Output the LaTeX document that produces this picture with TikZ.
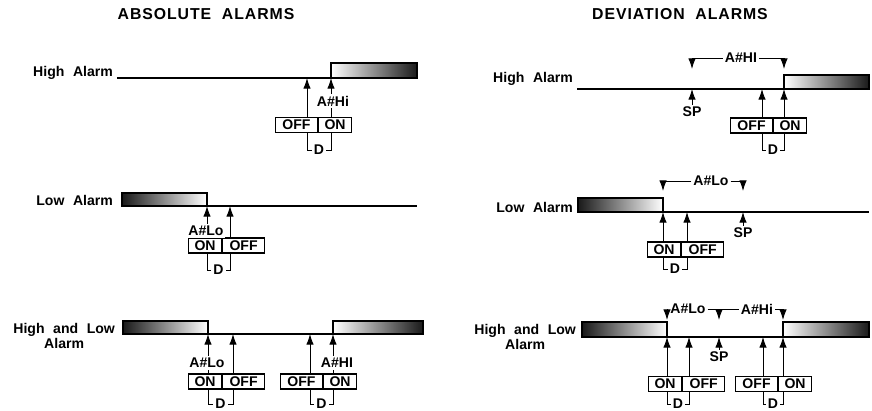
\documentclass[tikz,border=0pt]{standalone}
\usepackage{fontspec}
\setmainfont{Liberation Sans}[WordSpace=2.2]
\newfontfamily\titlefont{Liberation Sans}[LetterSpace=6,WordSpace=2]
\usetikzlibrary{positioning,arrows.meta}

\begin{document}
\begin{tikzpicture}[
    x=0.02cm, y=-0.02cm,
    every node/.style={font=\bfseries\fontsize{8}{8.5}\selectfont, inner sep=1pt},
    heading/.style={font=\titlefont\bfseries\fontsize{9}{10}\selectfont},
    cell/.style={draw, line width=0.7pt, minimum height=8.5pt, inner sep=0pt},
    oncell/.style={cell, minimum width=18.7pt},
    offcell/.style={cell, minimum width=23.8pt},
    alarmline/.style={line width=0.7pt},
    hot/.style={draw, line width=0.7pt, left color=white, right color=black!90},
    cold/.style={draw, line width=0.7pt, left color=black!90, right color=white},
    riser/.style={-{Latex[length=6pt,width=4.2pt]}, line width=0.5pt},
    bracket/.style={line width=0.5pt}
]
\useasboundingbox (0,0) rectangle (872,410);

\node[heading] (absttl) at (206,14) {ABSOLUTE ALARMS};
\node[heading] (devttl) at (680,14) {DEVIATION ALARMS};

\node[anchor=base east] (hialabel) at (115,76) {High Alarm};
\coordinate (a1start) at (117,78);
\coordinate (a1off) at (307,78);
\coordinate (a1on) at (331,78);
\draw[alarmline] (a1start) -- (a1on);
\path[hot] (a1on) rectangle (417,63);
\node[offcell, anchor=west] (b1off) at (275,125) {OFF};
\node[oncell, right=0pt of b1off] (b1on) {ON};
\draw[riser] (a1off |- b1off.north) -- (a1off);
\draw[riser] (a1on |- b1on.north) -- (a1on);
\node[fill=white] (lab1hi) at (333,101) {A\#Hi};
\node (d1) at (319,150) {D};
\draw[bracket] (a1off |- b1off.south) |- (d1.west);
\draw[bracket] (a1on |- b1on.south) |- (d1.east);

\node[anchor=base east] (loalabel) at (115,205) {Low Alarm};
\coordinate (a2on) at (207,206);
\coordinate (a2off) at (230,206);
\coordinate (a2end) at (417,206);
\path[cold] (122,193) rectangle (a2on);
\draw[alarmline] (a2on) -- (a2end);
\node[oncell, anchor=west] (b2on) at (188,245.5) {ON};
\node[offcell, right=0pt of b2on] (b2off) {OFF};
\draw[riser] (a2on |- b2on.north) -- (a2on);
\draw[riser] (a2off |- b2off.north) -- (a2off);
\node[fill=white] (lab2lo) at (206,231) {A\#Lo};
\node (d2) at (218.5,270) {D};
\draw[bracket] (a2on |- b2on.south) |- (d2.west);
\draw[bracket] (a2off |- b2off.south) |- (d2.east);

\node[anchor=east, align=center] (hlalabel) at (117,336) {High and Low\\Alarm};
\coordinate (a3lon) at (208,334);
\coordinate (a3loff) at (233,334);
\coordinate (a3hoff) at (310,334);
\coordinate (a3hon) at (333,334);
\path[cold] (123,321) rectangle (a3lon);
\draw[alarmline] (a3lon) -- (a3hon);
\path[hot] (a3hon) rectangle (423,321);
\node[oncell, anchor=west] (b3lon) at (188,381.5) {ON};
\node[offcell, right=0pt of b3lon] (b3loff) {OFF};
\node[offcell, anchor=west] (b3hoff) at (280,381.5) {OFF};
\node[oncell, right=0pt of b3hoff] (b3hon) {ON};
\draw[riser] (a3lon |- b3lon.north) -- (a3lon);
\draw[riser] (a3loff |- b3loff.north) -- (a3loff);
\draw[riser] (a3hoff |- b3hoff.north) -- (a3hoff);
\draw[riser] (a3hon |- b3hon.north) -- (a3hon);
\node[fill=white] (lab3lo) at (207,363) {A\#Lo};
\node[fill=white] (lab3hi) at (337,363) {A\#HI};
\node (d3lo) at (220.5,404) {D};
\node (d3hi) at (321.5,404) {D};
\draw[bracket] (a3lon |- b3lon.south) |- (d3lo.west);
\draw[bracket] (a3loff |- b3loff.south) |- (d3lo.east);
\draw[bracket] (a3hoff |- b3hoff.south) |- (d3hi.west);
\draw[bracket] (a3hon |- b3hon.south) |- (d3hi.east);

\node[anchor=base east] (hidlabel) at (575,82) {High Alarm};
\coordinate (d4start) at (577,89);
\coordinate (d4sp) at (692,89);
\coordinate (d4off) at (762,89);
\coordinate (d4on) at (784,89);
\draw[alarmline] (d4start) -- (d4on);
\path[hot] (d4on) rectangle (869,75);
\node (sp4) at (692,112) {SP};
\draw[riser] (sp4.north) -- (d4sp);
\node[offcell, anchor=west] (b4off) at (730,125.5) {OFF};
\node[oncell, right=0pt of b4off] (b4on) {ON};
\draw[riser] (d4off |- b4off.north) -- (d4off);
\draw[riser] (d4on |- b4on.north) -- (d4on);
\node (d4) at (773,150) {D};
\draw[bracket] (d4off |- b4off.south) |- (d4.west);
\draw[bracket] (d4on |- b4on.south) |- (d4.east);
\node (dev4hi) at (741,58) {A\#HI};
\coordinate (t4l) at (692,69);
\coordinate (t4r) at (784,69);
\draw[riser] (dev4hi.west) -| (t4l);
\draw[riser] (dev4hi.east) -| (t4r);

\node[anchor=base east] (lodlabel) at (575,212) {Low Alarm};
\coordinate (e5on) at (663,212);
\coordinate (e5off) at (687,212);
\coordinate (e5sp) at (743,212);
\coordinate (e5end) at (869,212);
\path[cold] (578,198) rectangle (e5on);
\draw[alarmline] (e5on) -- (e5end);
\node (sp5) at (743,233) {SP};
\draw[riser] (sp5.north) -- (e5sp);
\node[oncell, anchor=west] (b5on) at (647,249.5) {ON};
\node[offcell, right=0pt of b5on] (b5off) {OFF};
\draw[riser] (e5on |- b5on.north) -- (e5on);
\draw[riser] (e5off |- b5off.north) -- (e5off);
\node (d5) at (675,269) {D};
\draw[bracket] (e5on |- b5on.south) |- (d5.west);
\draw[bracket] (e5off |- b5off.south) |- (d5.east);
\node (dev5lo) at (711,181) {A\#Lo};
\coordinate (t5l) at (663,191);
\coordinate (t5r) at (743,191);
\draw[riser] (dev5lo.west) -| (t5l);
\draw[riser] (dev5lo.east) -| (t5r);

\node[anchor=east, align=center] (hldlabel) at (578,337) {High and Low\\Alarm};
\coordinate (f6lon) at (667,337);
\coordinate (f6loff) at (689,337);
\coordinate (f6sp) at (719,337);
\coordinate (f6hoff) at (763,337);
\coordinate (f6hon) at (783,337);
\path[cold] (582,322) rectangle (f6lon);
\draw[alarmline] (f6lon) -- (f6hon);
\path[hot] (f6hon) rectangle (869,322);
\node (sp6) at (719,357) {SP};
\draw[riser] (sp6.north) -- (f6sp);
\node[oncell, anchor=west] (b6lon) at (648,384) {ON};
\node[offcell, right=0pt of b6lon] (b6loff) {OFF};
\node[offcell, anchor=west] (b6hoff) at (735,384) {OFF};
\node[oncell, right=0pt of b6hoff] (b6hon) {ON};
\draw[riser] (f6lon |- b6lon.north) -- (f6lon);
\draw[riser] (f6loff |- b6loff.north) -- (f6loff);
\draw[riser] (f6hoff |- b6hoff.north) -- (f6hoff);
\draw[riser] (f6hon |- b6hon.north) -- (f6hon);
\node (d6lo) at (678,404) {D};
\node (d6hi) at (773,404) {D};
\draw[bracket] (f6lon |- b6lon.south) |- (d6lo.west);
\draw[bracket] (f6loff |- b6loff.south) |- (d6lo.east);
\draw[bracket] (f6hoff |- b6hoff.south) |- (d6hi.west);
\draw[bracket] (f6hon |- b6hon.south) |- (d6hi.east);
\node (dev6lo) at (688,309) {A\#Lo};
\node (dev6hi) at (757,309) {A\#Hi};
\coordinate (t6l) at (667,320);
\coordinate (t6m) at (719,320);
\coordinate (t6r) at (783,320);
\draw[riser] (dev6lo.west) -| (t6l);
\draw[bracket] (dev6lo.east) -- (dev6hi.west);
\draw[riser] (t6m |- dev6lo.center) -- (t6m);
\draw[riser] (dev6hi.east) -| (t6r);
\end{tikzpicture}
\end{document}
